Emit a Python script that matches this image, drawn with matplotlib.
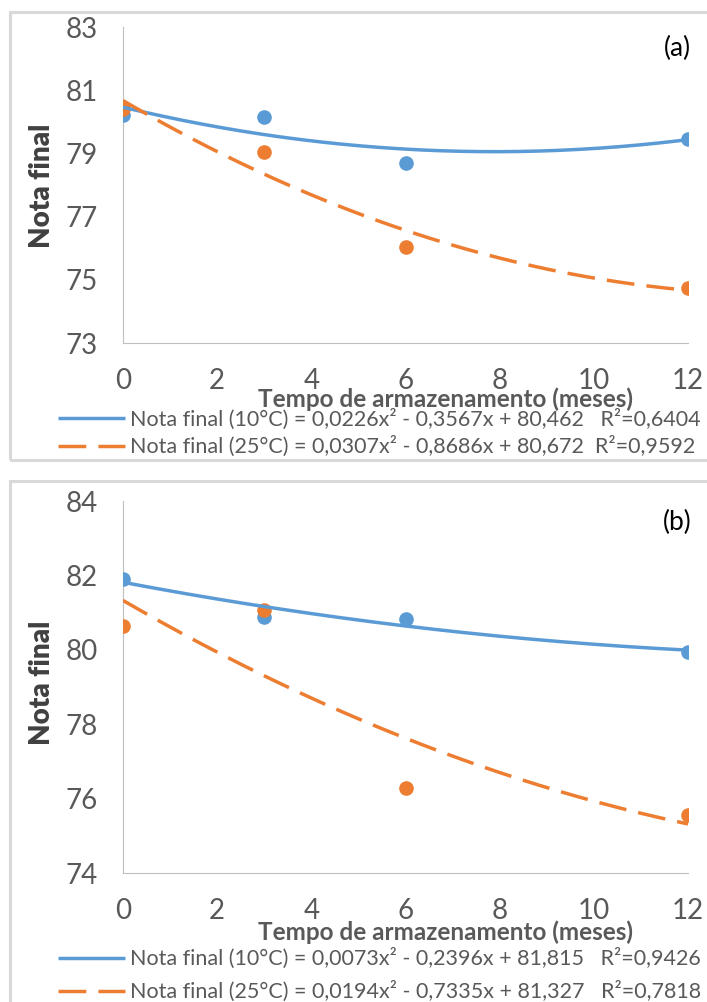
import numpy as np
import matplotlib
matplotlib.use('Agg')
import matplotlib.pyplot as plt
from matplotlib.patches import Rectangle

plt.rcParams['font.family'] = ['Lato', 'DejaVu Sans']

W, H = 707, 1002

# dados: nota final x tempo de armazenamento
meses = [0, 3, 6, 12]
nota_a_10 = [80.23, 80.15, 78.70, 79.46]
nota_a_25 = [80.39, 79.04, 76.04, 74.73]
nota_b_10 = [81.89, 80.89, 80.84, 79.95]
nota_b_25 = [80.65, 81.07, 76.29, 75.55]

# coeficientes das regressoes (a x^2 + b x + c)
coef_a_10 = [0.0226, -0.3567, 80.462]
coef_a_25 = [0.0307, -0.8686, 80.672]
coef_b_10 = [0.0073, -0.2396, 81.815]
coef_b_25 = [0.0194, -0.7335, 81.327]

leg_a = ['Nota final (10°C) = 0,0226x² - 0,3567x + 80,462   R²=0,6404',
         'Nota final (25°C) = 0,0307x² - 0,8686x + 80,672  R²=0,9592']
leg_b = ['Nota final (10°C) = 0,0073x² - 0,2396x + 81,815   R²=0,9426',
         'Nota final (25°C) = 0,0194x² - 0,7335x + 81,327   R²=0,7818']

yticks_a = [73, 75, 77, 79, 81, 83]
yticks_b = [74, 76, 78, 80, 82, 84]
xticks = [0, 2, 4, 6, 8, 10, 12]

AZUL = '#5B9BD5'
LARANJA = '#ED7D31'
CINZA = '#595959'


def fx(x):
    return x / W


def fy(y):
    return 1 - y / H


fig = plt.figure(figsize=(W / 100, H / 100), dpi=100)

# molduras dos graficos
for top, bot in [(12, 460), (481, 1010)]:
    fig.add_artist(Rectangle((fx(10), fy(bot)), fx(720) - fx(10), fy(top) - fy(bot),
                             transform=fig.transFigure, fill=False,
                             edgecolor='#D9D9D9', lw=2.2))


def painel(top, bot, y10, y25, c10, c25, yticks, legenda, tag, ylab_y, xlab_y, leg_y, leg_sp):
    ax = fig.add_axes([fx(123), fy(bot), fx(688) - fx(123), fy(top) - fy(bot)])
    xs = np.linspace(0, 12, 200)
    ax.plot(meses, y10, 'o', color=AZUL, ms=9.5, zorder=3)
    ax.plot(meses, y25, 'o', color=LARANJA, ms=9.5, zorder=4)
    l1, = ax.plot(xs, np.polyval(c10, xs), color=AZUL, lw=2.5, zorder=5,
                  solid_capstyle='butt')
    l2, = ax.plot(xs, np.polyval(c25, xs), color=LARANJA, lw=2.5, zorder=5,
                  dashes=(8, 3.5))
    ax.set_xlim(0, 12)
    ax.set_ylim(yticks[0], yticks[-1])
    ax.set_xticks(xticks)
    ax.set_yticks(yticks)
    ax.tick_params(length=0, labelsize=20, labelcolor=CINZA)
    ax.tick_params(axis='x', pad=18)
    ax.tick_params(axis='y', pad=18)
    for s in ['top', 'right']:
        ax.spines[s].set_visible(False)
    for s in ['left', 'bottom']:
        ax.spines[s].set_color('#BFBFBF')
        ax.spines[s].set_linewidth(0.8)

    fig.text(fx(677), fy(top + 21), tag, fontsize=19, color='black',
             ha='center', va='center')
    fig.text(fx(42), fy(ylab_y), 'Nota final', rotation=90, fontsize=20,
             fontweight='heavy', color='#404040', ha='center', va='center')
    fig.text(fx(445), fy(xlab_y), 'Tempo de armazenamento (meses)', fontsize=17.5,
             fontweight='bold', color=CINZA, ha='center', va='center')

    lg = fig.legend([l1, l2], legenda, loc='center left',
                    bbox_to_anchor=(fx(58), fy(leg_y)), frameon=False,
                    fontsize=15.5, handlelength=3.1, handletextpad=0.25,
                    labelspacing=leg_sp, borderpad=0, borderaxespad=0)
    for t in lg.get_texts():
        t.set_color(CINZA)
    return ax


painel(27, 343, nota_a_10, nota_a_25, coef_a_10, coef_a_25, yticks_a, leg_a, '(a)',
       186, 399, 433, 0.28)
painel(501, 873, nota_b_10, nota_b_25, coef_b_10, coef_b_25, yticks_b, leg_b, '(b)',
       683, 932, 975, 0.55)

fig.savefig('out.png', dpi=100)
